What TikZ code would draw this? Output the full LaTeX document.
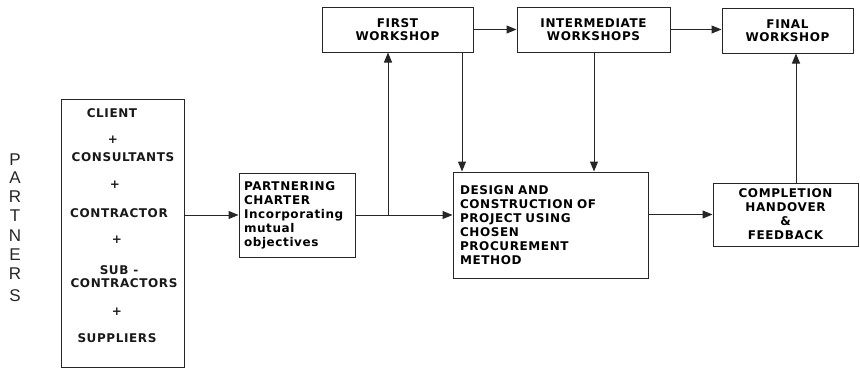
\documentclass[tikz,border=0pt]{standalone}
\usepackage{fontspec}
\setmainfont{DejaVu Sans}
\newfontfamily\labfont[LetterSpace=5]{DejaVu Sans}
\newfontfamily\partfont{Liberation Sans}
\usetikzlibrary{arrows.meta}
\begin{document}
\begin{tikzpicture}[x=1pt,y=-1pt,
  box/.style={draw=black!85, line width=1pt, inner sep=0pt, rectangle},
  lab/.style={font=\labfont\bfseries\fontsize{12}{14}\selectfont, inner sep=0pt, text=black!90},
  conn/.style={draw=black!85, line width=1pt},
  arr/.style={conn, -{Triangle[length=10pt,width=8pt]}},
  part/.style={font=\partfont\fontsize{17}{17}\selectfont, inner sep=0pt, text=black!85}
]
\useasboundingbox (0,0) rectangle (860,372);
\fill[white] (0,0) rectangle (860,372);

% PARTNERS vertical label
\foreach \ch/\yy [count=\i] in {P/160,A/178,R/197,T/216,N/236,E/255,R/274,S/296}
  \node[part] (pl\i) at (15,\yy) {\ch};

% partners box
\node[box, minimum width=123pt, minimum height=268pt] (partners) at (122.5,233) {};
\node[lab] (t1) at (112,113) {CLIENT};
\node[lab] (p1) at (113,140) {+};
\node[lab] (t2) at (123,157) {CONSULTANTS};
\node[lab] (p2) at (115,185) {+};
\node[lab] (t3) at (119,213) {CONTRACTOR};
\node[lab] (p3) at (117,240) {+};
\node[lab] (t4) at (119,270) {SUB -};
\node[lab] (t5) at (124,283) {CONTRACTORS};
\node[lab] (p4) at (117,312) {+};
\node[lab] (t6) at (117,338) {SUPPLIERS};

% charter
\node[box, minimum width=116pt, minimum height=84pt, align=left, text width=106pt,
      font=\labfont\bfseries\fontsize{12}{14}\selectfont] (charter) at (297,215)
  {PARTNERING\\CHARTER\\Incorporating\\mutual\\objectives};

% design
\node[box, minimum width=195pt, minimum height=106pt, align=left, text width=181pt,
      font=\labfont\bfseries\fontsize{12}{14}\selectfont] (design) at (550.5,225)
  {DESIGN AND\\CONSTRUCTION OF\\PROJECT USING\\CHOSEN\\PROCUREMENT\\METHOD};

% workshops
\node[box, minimum width=151pt, minimum height=45pt, align=center,
      font=\labfont\bfseries\fontsize{12}{13.5}\selectfont] (first) at (397.5,29.5)
  {FIRST\\WORKSHOP};
\node[box, minimum width=153pt, minimum height=45pt, align=center,
      font=\labfont\bfseries\fontsize{12}{13.5}\selectfont] (inter) at (593.5,29.5)
  {INTERMEDIATE\\WORKSHOPS};
\node[box, minimum width=131pt, minimum height=45pt, align=center,
      font=\labfont\bfseries\fontsize{12}{13.5}\selectfont] (final) at (787.5,30.5)
  {FINAL\\WORKSHOP};

% completion
\node[box, minimum width=145pt, minimum height=63pt, align=center,
      font=\labfont\bfseries\fontsize{12}{14}\selectfont] (comp) at (785.5,214.5)
  {COMPLETION\\HANDOVER\\\&\\FEEDBACK};

% connectors
\draw[arr] (partners.east |- charter.west) -- (charter.west);
\coordinate (j) at (388,215);
\draw[arr] (charter.east |- j) -- (j -| design.west);
\draw[arr] (j) -- (j |- first.south);
\coordinate (fx) at (462,0);
\draw[arr] (fx |- first.south) -- (fx |- design.north);
\coordinate (ix) at (594,0);
\draw[arr] (ix |- inter.south) -- (ix |- design.north);
\draw[arr] (first.east) -- (first.east -| inter.west);
\draw[arr] (inter.east) -- (inter.east -| final.west);
\draw[arr] (design.east |- comp.west) -- (comp.west);
\coordinate (cx) at (796,0);
\draw[arr] (cx |- comp.north) -- (cx |- final.south);
\end{tikzpicture}
\end{document}
